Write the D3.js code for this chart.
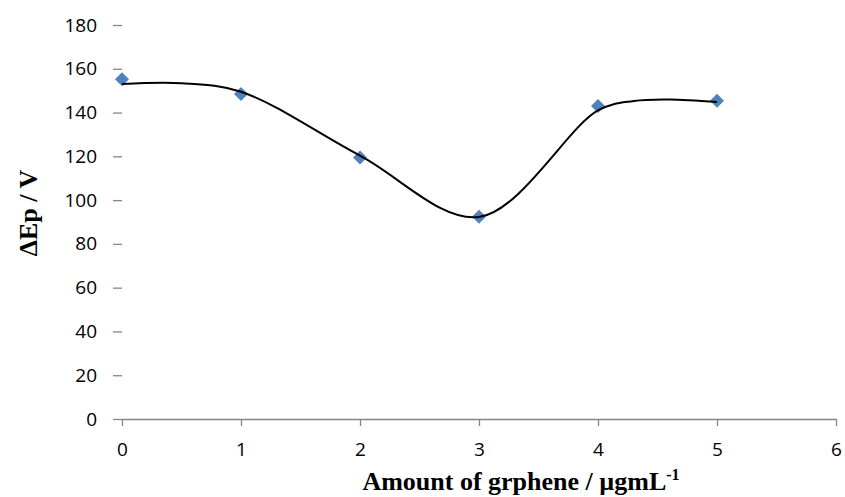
<!DOCTYPE html>
<html>
<head>
<meta charset="utf-8">
<script src="https://cdn.jsdelivr.net/npm/d3@7"></script>
<style>
  html, body { margin: 0; padding: 0; background: #fff; }
  svg { display: block; }
</style>
</head>
<body>
<svg id="chart" width="845" height="497"></svg>
<script>
// ---- data ----
const concentrations = [0, 1, 2, 3, 4, 5];          // µg/mL
const deltaEp = [155.2, 148.5, 119.5, 92.4, 143.0, 145.4]; // measured points
// smoothed trend line (separate series) read from the picture
const fitX = [0, 0.5, 1, 2, 3, 4, 4.3, 4.6, 5];
const fitY = [153.0, 153.4, 149.5, 120.3, 92.3, 141.0, 145.3, 146.0, 144.8];
const xTicks = [0, 1, 2, 3, 4, 5, 6];
const yTicks = [0, 20, 40, 60, 80, 100, 120, 140, 160, 180];

const svg = d3.select("#chart");
const plot = { left: 122, right: 836, top: 25, bottom: 419 };

const x = d3.scaleLinear().domain([0, 6]).range([plot.left, plot.right]);
const y = d3.scaleLinear().domain([0, 180]).range([plot.bottom, plot.top]);

const axisColor = "#868686";
const tickFont = "'Open Sans', 'Liberation Sans', sans-serif";

// y axis: tick marks only, no line
const gy = svg.append("g")
  .attr("transform", `translate(${plot.left},0)`)
  .call(d3.axisLeft(y).tickValues(yTicks).tickSize(9).tickPadding(16).tickFormat(d3.format("d")));
gy.select(".domain").remove();
gy.selectAll(".tick line").attr("stroke", axisColor).attr("stroke-width", 1.3);
gy.selectAll(".tick text").attr("font-family", tickFont).attr("font-size", 19).attr("fill", "#000");

// x axis
const gx = svg.append("g")
  .attr("transform", `translate(0,${plot.bottom})`)
  .call(d3.axisBottom(x).tickValues(xTicks).tickSizeInner(7).tickSizeOuter(0).tickPadding(17).tickFormat(d3.format("d")));
gx.select(".domain").attr("stroke", axisColor).attr("stroke-width", 1.3);
gx.selectAll(".tick line").attr("stroke", axisColor).attr("stroke-width", 1.3);
gx.selectAll(".tick text").attr("font-family", tickFont).attr("font-size", 19).attr("fill", "#000");

// markers
const diamond = d3.symbol().type(d3.symbolSquare).size(98);
svg.append("g").selectAll("path")
  .data(concentrations.map((c, i) => [c, deltaEp[i]]))
  .join("path")
  .attr("d", diamond)
  .attr("transform", d => `translate(${x(d[0])},${y(d[1])}) rotate(45)`)
  .attr("fill", "#4F81BD");

// smoothed line
const line = d3.line()
  .x(d => x(d[0]))
  .y(d => y(d[1]))
  .curve(d3.curveCatmullRom.alpha(0.5));
svg.append("path")
  .datum(fitX.map((v, i) => [v, fitY[i]]))
  .attr("d", line)
  .attr("fill", "none")
  .attr("stroke", "#000")
  .attr("stroke-width", 2);

// axis titles
const titleFont = "'Liberation Serif', 'Times New Roman', serif";
const xt = svg.append("text")
  .attr("x", 521).attr("y", 490)
  .attr("text-anchor", "middle")
  .attr("font-family", titleFont).attr("font-weight", "bold").attr("font-size", 26);
xt.append("tspan").text("Amount of grphene / µgmL");
xt.append("tspan").attr("dy", -10).attr("font-size", 16).text("-1");

svg.append("text")
  .attr("transform", "translate(37,213) rotate(-90)")
  .attr("text-anchor", "middle")
  .attr("font-family", titleFont).attr("font-weight", "bold").attr("font-size", 26)
  .text("ΔEp / V");
</script>
</body>
</html>
